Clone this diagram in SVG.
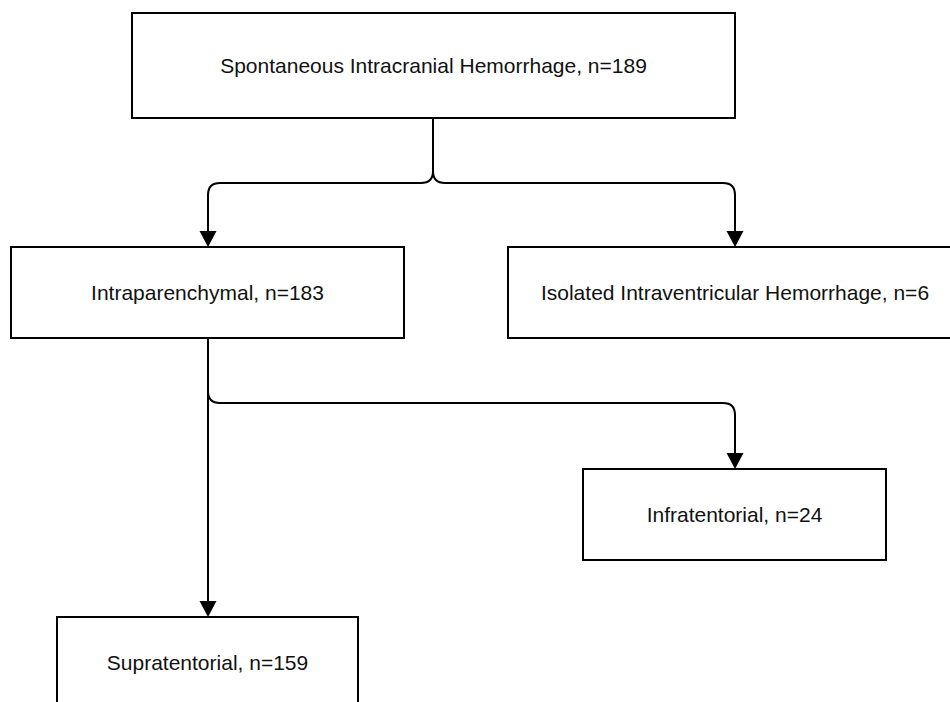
<svg xmlns="http://www.w3.org/2000/svg" width="950" height="702" viewBox="0 0 950 702">
  <style>
    .box { fill: #ffffff; stroke: #000000; stroke-width: 2; }
    .lbl { font-family: "Liberation Sans", Arial, Helvetica, sans-serif; font-size: 21px; fill: #111111; text-anchor: middle; }
    .edge { fill: none; stroke: #000000; stroke-width: 2; }
  </style>
  <defs>
    <marker id="arrow" markerUnits="userSpaceOnUse" markerWidth="16" markerHeight="18" refX="8" refY="8.5" orient="auto">
      <path d="M0,0 L16,8.5 L0,17 Z" fill="#000000"/>
    </marker>
  </defs>
  <rect width="950" height="702" fill="#ffffff"/>

  <g id="connectors">
    <path class="edge" d="M433,118 V171 Q433,183 421,183 H220 Q208,183 208,195 V239" marker-end="url(#arrow)"/>
    <path class="edge" d="M433,118 V171 Q433,183 445,183 H723 Q735,183 735,195 V239" marker-end="url(#arrow)"/>
    <path class="edge" d="M208,338 V391 Q208,403 220,403 H723 Q735,403 735,415 V461" marker-end="url(#arrow)"/>
    <path class="edge" d="M208,338 V609" marker-end="url(#arrow)"/>
  </g>

  <g id="node-sich">
    <rect class="box" x="132" y="13" width="603" height="105"/>
    <text class="lbl" x="433.5" y="73">Spontaneous Intracranial Hemorrhage, n=189</text>
  </g>
  <g id="node-intraparenchymal">
    <rect class="box" x="11" y="247" width="393" height="91"/>
    <text class="lbl" x="207.5" y="300">Intraparenchymal, n=183</text>
  </g>
  <g id="node-ivh">
    <rect class="box" x="508" y="247" width="454" height="91"/>
    <text class="lbl" x="735" y="300">Isolated Intraventricular Hemorrhage, n=6</text>
  </g>
  <g id="node-infratentorial">
    <rect class="box" x="583" y="469" width="303" height="91"/>
    <text class="lbl" x="734.5" y="522">Infratentorial, n=24</text>
  </g>
  <g id="node-supratentorial">
    <rect class="box" x="57" y="617" width="301" height="91"/>
    <text class="lbl" x="207.5" y="670">Supratentorial, n=159</text>
  </g>
</svg>
